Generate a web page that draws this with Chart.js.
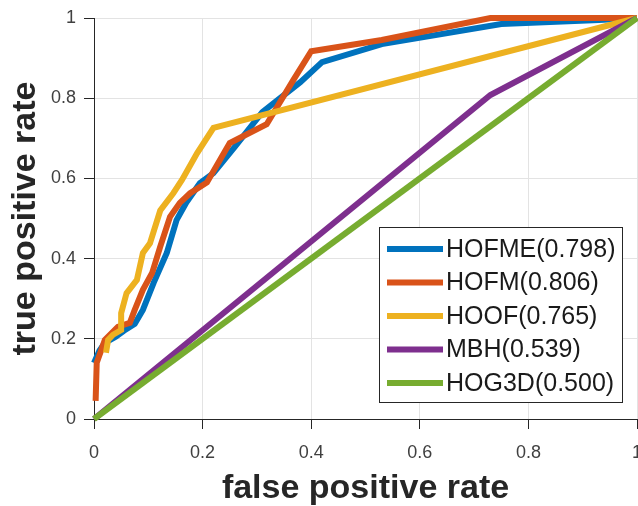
<!DOCTYPE html>
<html><head><meta charset="utf-8">
<script src="https://cdn.jsdelivr.net/npm/chart.js@4/dist/chart.umd.min.js"></script>
<style>html,body{margin:0;padding:0;background:#fff;overflow:hidden}#wrap{width:638px;height:506px}</style>
</head><body><div id="wrap"><canvas id="c" width="638" height="506"></canvas></div>
<script>
// ---- data ----
const seriesNames = ['HOFME(0.798)', 'HOFM(0.806)', 'HOOF(0.765)', 'MBH(0.539)', 'HOG3D(0.500)'];
const seriesColors = ['#0072BD', '#D95319', '#EDB120', '#7E2F8E', '#77AC30'];

const hofmeFpr = [0, 0.01, 0.02, 0.04, 0.055, 0.075, 0.09, 0.11, 0.134, 0.152, 0.17, 0.195, 0.22, 0.26, 0.31, 0.38, 0.42, 0.53, 0.75, 0.93, 1];
const hofmeTpr = [0.14, 0.17, 0.19, 0.205, 0.22, 0.237, 0.272, 0.34, 0.414, 0.496, 0.54, 0.588, 0.613, 0.68, 0.765, 0.84, 0.89, 0.935, 0.985, 0.995, 1];

const hofmFpr = [0.003, 0.005, 0.02, 0.044, 0.066, 0.075, 0.09, 0.107, 0.122, 0.14, 0.158, 0.177, 0.208, 0.25, 0.318, 0.367, 0.40, 0.53, 0.73, 1];
const hofmTpr = [0.045, 0.14, 0.197, 0.23, 0.24, 0.272, 0.322, 0.364, 0.43, 0.504, 0.539, 0.563, 0.59, 0.688, 0.735, 0.845, 0.917, 0.945, 1.0, 1.0];

const hoofFpr = [0.022, 0.026, 0.035, 0.05, 0.05, 0.06, 0.079, 0.09, 0.103, 0.122, 0.146, 0.162, 0.19, 0.22, 1];
const hoofTpr = [0.165, 0.197, 0.21, 0.222, 0.264, 0.314, 0.347, 0.414, 0.438, 0.52, 0.563, 0.596, 0.663, 0.726, 1];

const mbhFpr = [0, 0.73, 1];
const mbhTpr = [0, 0.808, 1];

const hog3dFpr = [0, 1];
const hog3dTpr = [0, 1];

const tickValues = [0, 0.2, 0.4, 0.6, 0.8, 1];
const tickLabels = ['0', '0.2', '0.4', '0.6', '0.8', '1'];
const xTitle = 'false positive rate';
const yTitle = 'true positive rate';

// ---- build ----
const FONT = "'Liberation Sans', Arial, Helvetica, sans-serif";
const fprs = [hofmeFpr, hofmFpr, hoofFpr, mbhFpr, hog3dFpr];
const tprs = [hofmeTpr, hofmTpr, hoofTpr, mbhTpr, hog3dTpr];
const datasets = seriesNames.map((name, i) => ({
  label: name,
  data: fprs[i].map((x, k) => ({x: x, y: tprs[i][k]})),
  borderColor: seriesColors[i],
  backgroundColor: seriesColors[i],
  borderWidth: 6,
  pointRadius: 0,
  tension: 0,
  fill: false,
  clip: false,
  order: seriesNames.length - 1 - i
}));

const legendBox = {
  id: 'legendBox',
  afterDatasetsDraw(chart) {
    const ctx = chart.ctx;
    const bx = 379.5, by = 227.5, bw = 243, bh = 175;
    ctx.save();
    ctx.fillStyle = '#ffffff';
    ctx.fillRect(bx, by, bw, bh);
    ctx.strokeStyle = '#262626';
    ctx.lineWidth = 1;
    ctx.strokeRect(bx, by, bw, bh);
    ctx.font = '25px ' + FONT;
    ctx.textBaseline = 'middle';
    ctx.textAlign = 'left';
    chart.data.datasets.forEach((ds, i) => {
      const y = 249 + i * 33.5;
      ctx.strokeStyle = ds.borderColor;
      ctx.lineWidth = 6;
      ctx.beginPath();
      ctx.moveTo(387, y);
      ctx.lineTo(443, y);
      ctx.stroke();
      ctx.fillStyle = '#1a1a1a';
      ctx.fillText(ds.label, 446, y + 1);
    });
    ctx.restore();
  }
};

const setTicks = s => { s.ticks = tickValues.map(v => ({value: v})); };

new Chart(document.getElementById('c'), {
  type: 'line',
  data: {datasets: datasets},
  options: {
    responsive: false,
    animation: false,
    devicePixelRatio: 1,
    layout: {padding: {left: 0, right: 1, top: 18, bottom: 0}},
    plugins: {legend: {display: false}, tooltip: {enabled: false}},
    scales: {
      x: {
        type: 'linear', min: 0, max: 1,
        afterBuildTicks: setTicks,
        afterFit: s => { s.height = 87; s.paddingLeft = 0; s.paddingRight = 0; },
        ticks: {
          callback: (v, i) => tickLabels[i],
          font: {family: FONT, size: 18},
          color: '#404040',
          padding: 13,
          maxRotation: 0,
          autoSkip: false
        },
        grid: {color: '#e3e3e3', lineWidth: 1, tickColor: '#262626', tickLength: 10, drawTicks: true},
        border: {color: '#262626', width: 1},
        title: {display: true, text: xTitle, color: '#262626',
                font: {family: FONT, size: 34, weight: 'bold', lineHeight: 1},
                padding: {top: 0, bottom: 0}}
      },
      y: {
        type: 'linear', min: 0, max: 1,
        afterBuildTicks: setTicks,
        afterFit: s => { s.width = 94; s.paddingTop = 0; s.paddingBottom = 0; },
        ticks: {
          callback: (v, i) => tickLabels[i],
          font: {family: FONT, size: 18},
          color: '#404040',
          padding: 8,
          autoSkip: false
        },
        grid: {color: '#e3e3e3', lineWidth: 1, tickColor: '#262626', tickLength: 10, drawTicks: true},
        border: {color: '#262626', width: 1},
        title: {display: true, text: yTitle, color: '#262626',
                font: {family: FONT, size: 34, weight: 'bold', lineHeight: 1},
                padding: {top: 9, bottom: 0}}
      }
    }
  },
  plugins: [legendBox]
});
</script>
</body></html>
